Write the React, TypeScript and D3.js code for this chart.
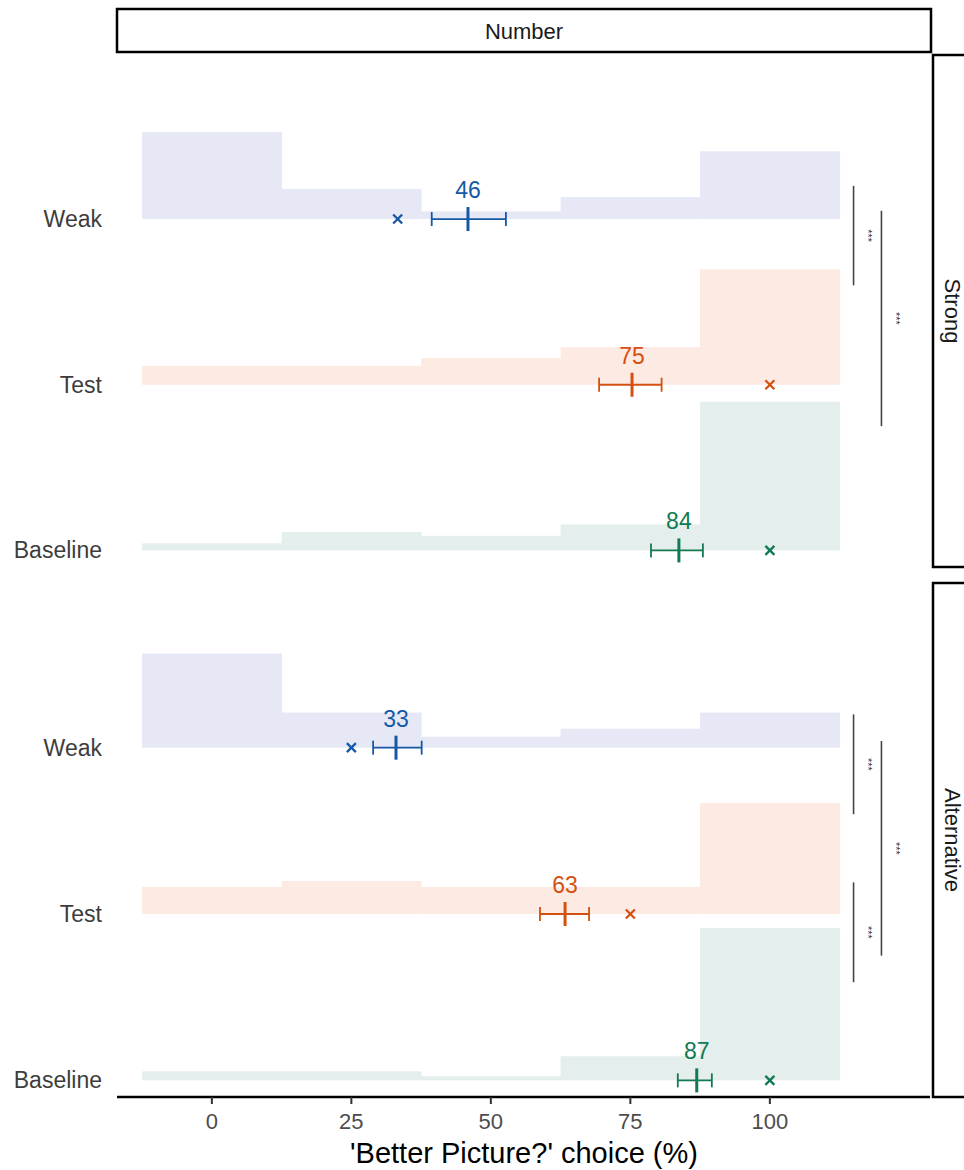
import React from 'react';
import * as d3 from 'd3';

// ---- data ----
const conditions = ['Baseline', 'Test', 'Weak']; // bottom to top
const panels = ['Strong', 'Alternative'];
const binCenters = [0, 25, 50, 75, 100];
const binWidth = 25;
const xTicks = [0, 25, 50, 75, 100];

// histogram shares (%) per bin, rows in order Baseline, Test, Weak
const histStrongBaseline = [3.3, 8.5, 6.8, 12.1, 69.3];
const histStrongTest = [8.8, 8.8, 12.4, 17.5, 53.8];
const histStrongWeak = [40.5, 14.0, 3.6, 10.2, 31.6];
const histAltBaseline = [4.2, 4.2, 1.9, 11.2, 70.7];
const histAltTest = [12.6, 15.3, 12.6, 12.6, 51.6];
const histAltWeak = [43.7, 16.3, 5.1, 8.8, 16.3];

// means, CI bounds, medians (Baseline, Test, Weak)
const meanStrong = [83.7, 75.3, 45.9];
const ciLowStrong = [78.7, 69.4, 39.4];
const ciHighStrong = [88.0, 80.6, 52.7];
const medianStrong = [100, 100, 33.3];
const meanAlt = [86.9, 63.3, 33.0];
const ciLowAlt = [83.5, 58.8, 28.9];
const ciHighAlt = [89.6, 67.6, 37.6];
const medianAlt = [100, 75, 25];
const meanLabelsStrong = ['84', '75', '46'];
const meanLabelsAlt = ['87', '63', '33'];

// significance brackets: [from row, to row, x position]
const bracketsStrong = [[3.2, 2.6, 115], [3.05, 1.75, 120]];
const bracketsAlt = [[3.2, 2.6, 115], [3.04, 1.75, 120], [2.19, 1.59, 115]];
const sigLabel = '***';

const markColors = ['#117a52', '#d4500f', '#1559a6'];
const fillColors = ['#e4eeed', '#fdeae3', '#e6e9f5'];

const FONT = '"Liberation Sans", Arial, Helvetica, sans-serif';

export default function App() {
  const W = 964, H = 1170;
  const x = d3.scaleLinear().domain([-17, 128.7]).range([117, 930]);
  const panelBounds = [[55, 567], [583, 1097]];
  const histScale = d3.scaleLinear().domain([0, 100]).range([0, 1.295]);

  const panelData = [
    {
      name: panels[0],
      hist: [histStrongBaseline, histStrongTest, histStrongWeak],
      mean: meanStrong, lo: ciLowStrong, hi: ciHighStrong, med: medianStrong,
      labels: meanLabelsStrong, brackets: bracketsStrong,
    },
    {
      name: panels[1],
      hist: [histAltBaseline, histAltTest, histAltWeak],
      mean: meanAlt, lo: ciLowAlt, hi: ciHighAlt, med: medianAlt,
      labels: meanLabelsAlt, brackets: bracketsAlt,
    },
  ];

  return (
    <div style={{ position: 'absolute', left: 0, top: 0 }}>
      <svg width={W} height={H} style={{ display: 'block', background: '#fff' }}>
        {/* top strip */}
        <rect x={117} y={9} width={814} height={43} fill="#fff" stroke="#000" strokeWidth={2.5} />
        <text x={524} y={38.5} textAnchor="middle" fontFamily={FONT} fontSize={22} fill="#1a1a1a">Number</text>

        {panelData.map((p, pi) => {
          const [top, bottom] = panelBounds[pi];
          const y = d3.scaleLinear().domain([0.9, 3.99]).range([bottom, top]);
          return (
            <g key={p.name}>
              {/* histograms */}
              {p.hist.map((vals, ci) => {
                const base = y(ci + 1);
                return vals.map((v, bi) => {
                  const x0 = x(binCenters[bi] - binWidth / 2);
                  const x1 = x(binCenters[bi] + binWidth / 2);
                  const yt = y(ci + 1 + histScale(v));
                  return (
                    <rect key={`${ci}-${bi}`} x={x0} y={yt} width={x1 - x0 + 0.5} height={base - yt}
                      fill={fillColors[ci]} />
                  );
                });
              })}
              {/* marks */}
              {conditions.map((c, ci) => {
                const yy = y(ci + 1);
                const col = markColors[ci];
                const mx = x(p.mean[ci]);
                const md = x(p.med[ci]);
                return (
                  <g key={c}>
                    <line x1={x(p.lo[ci])} x2={x(p.hi[ci])} y1={yy} y2={yy} stroke={col} strokeWidth={1.8} />
                    <line x1={x(p.lo[ci])} x2={x(p.lo[ci])} y1={yy - 7} y2={yy + 7} stroke={col} strokeWidth={1.8} />
                    <line x1={x(p.hi[ci])} x2={x(p.hi[ci])} y1={yy - 7} y2={yy + 7} stroke={col} strokeWidth={1.8} />
                    <line x1={mx} x2={mx} y1={yy - 12} y2={yy + 12} stroke={col} strokeWidth={3} />
                    <line x1={md - 4.5} x2={md + 4.5} y1={yy - 4.5} y2={yy + 4.5} stroke={col} strokeWidth={2.3} />
                    <line x1={md - 4.5} x2={md + 4.5} y1={yy + 4.5} y2={yy - 4.5} stroke={col} strokeWidth={2.3} />
                    <text x={mx} y={yy - 21} textAnchor="middle" fontFamily={FONT} fontSize={23} fill={col}>{p.labels[ci]}</text>
                    <text x={102} y={yy + 8} textAnchor="end" fontFamily={FONT} fontSize={23} fill="#3d3d3d">{c}</text>
                  </g>
                );
              })}
              {/* significance brackets */}
              {p.brackets.map((b, bi) => {
                const bx = x(b[2]);
                const y1 = y(b[0]);
                const y2 = y(b[1]);
                const tx = x(b[2] + 2.6);
                const ty = (y1 + y2) / 2;
                return (
                  <g key={bi}>
                    <line x1={bx} x2={bx} y1={y1} y2={y2} stroke="#444" strokeWidth={1.6} />
                    <text x={tx} y={ty} transform={`rotate(90 ${tx} ${ty})`} textAnchor="middle" dominantBaseline="central"
                      fontFamily={FONT} fontSize={11} fill="#333">{sigLabel}</text>
                  </g>
                );
              })}
              {/* right strip */}
              <rect x={933} y={top} width={42} height={bottom - top} fill="#fff" stroke="#000" strokeWidth={2.5} />
              <text x={952} y={(top + bottom) / 2} transform={`rotate(90 952 ${(top + bottom) / 2})`}
                textAnchor="middle" dominantBaseline="central" fontFamily={FONT} fontSize={22} fill="#1a1a1a">{p.name}</text>
            </g>
          );
        })}

        {/* x axis */}
        <line x1={117} x2={930} y1={1097} y2={1097} stroke="#000" strokeWidth={2.5} />
        {xTicks.map(t => (
          <g key={t}>
            <line x1={x(t)} x2={x(t)} y1={1097} y2={1104} stroke="#333" strokeWidth={2} />
            <text x={x(t)} y={1129} textAnchor="middle" fontFamily={FONT} fontSize={22} fill="#4d4d4d">{t}</text>
          </g>
        ))}
        <text x={524} y={1163} textAnchor="middle" fontFamily={FONT} fontSize={29} fill="#000">'Better Picture?' choice (%)</text>
      </svg>
    </div>
  );
}
